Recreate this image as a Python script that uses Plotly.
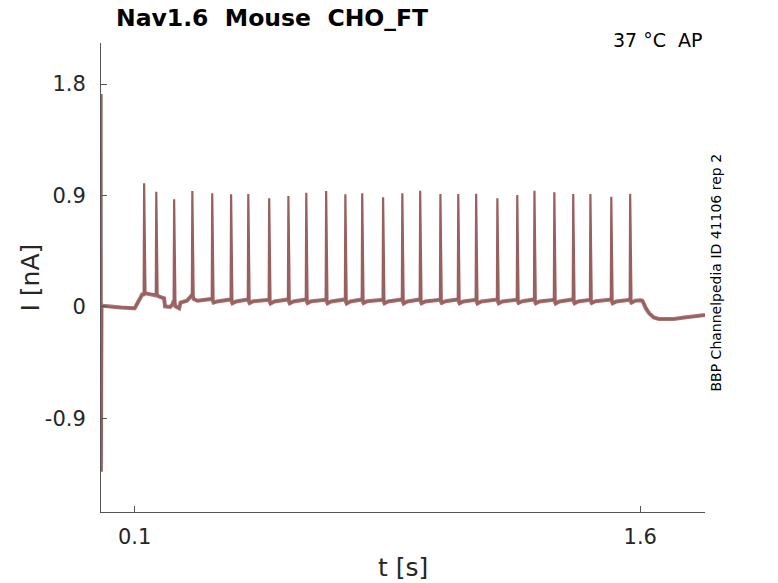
import plotly.graph_objects as go

# ---- data ----
spike_t = [0.128, 0.164, 0.217, 0.271, 0.330, 0.386, 0.437, 0.499, 0.556, 0.609,
           0.668, 0.725, 0.775, 0.837, 0.894, 0.947, 1.007, 1.060, 1.113, 1.176,
           1.235, 1.286, 1.345, 1.401, 1.452, 1.514, 1.570]
spike_peak = [0.998, 0.931, 0.869, 0.936, 0.918, 0.910, 0.912, 0.877, 0.896, 0.923,
              0.936, 0.910, 0.918, 0.885, 0.918, 0.939, 0.912, 0.912, 0.914, 0.877,
              0.904, 0.939, 0.926, 0.912, 0.912, 0.890, 0.912]
spike_pre = [0.10, 0.10, 0.05, 0.095, 0.065, 0.06, 0.06, 0.058, 0.06, 0.06,
             0.058, 0.06, 0.06, 0.058, 0.06, 0.06, 0.058, 0.06, 0.058, 0.06,
             0.058, 0.06, 0.058, 0.06, 0.058, 0.06, 0.058]
spike_post = [0.11, 0.09, 0.005, 0.065, 0.035, 0.03, 0.032, 0.028, 0.03, 0.032,
              0.03, 0.028, 0.032, 0.03, 0.028, 0.03, 0.032, 0.03, 0.028, 0.03,
              0.032, 0.03, 0.028, 0.03, 0.032, 0.03, 0.035]
spike_rec = [0.105, 0.078, -0.01, 0.05, 0.045, 0.045, 0.046, 0.044, 0.045, 0.046,
             0.045, 0.044, 0.046, 0.045, 0.044, 0.045, 0.046, 0.045, 0.044, 0.045,
             0.046, 0.045, 0.044, 0.045, 0.046, 0.045, 0.05]

base_t = [0.000, 0.0015, 0.0022, 0.004, 0.030, 0.060, 0.095, 0.100, 0.122,
          0.187, 0.190, 0.205, 0.212, 0.236, 0.255,
          1.600, 1.606, 1.610, 1.616, 1.626, 1.640, 1.655, 1.700, 1.730, 1.792]
base_i = [0.000, 1.72, -1.33, 0.01, 0.000, -0.005, -0.01, -0.01, 0.10,
          0.07, 0.005, 0.000, 0.02, 0.035, 0.05,
          0.055, 0.05, 0.03, -0.01, -0.05, -0.085, -0.097, -0.097, -0.085, -0.065]

x_ticks = [0.1, 1.6]
x_ticktext = ["0.1", "1.6"]
y_ticks = [-0.9, 0, 0.9, 1.8]
y_ticktext = ["-0.9", "0", "0.9", "1.8"]

# ---- assemble trace knots ----
pts = list(zip(base_t, base_i))
for t, pk, pre, post, rec in zip(spike_t, spike_peak, spike_pre, spike_post, spike_rec):
    pts += [(t - 0.0015, pre), (t, pk), (t + 0.004, post), (t + 0.015, rec)]
pts.sort()
xs = [p[0] for p in pts]
ys = [p[1] for p in pts]

# baseline-only knots (no spike peaks, no capacitive transient) for the thicker noisy band
bpts = [p for p in zip(base_t, base_i) if p[0] >= 0.004]
for t, pre, post, rec in zip(spike_t, spike_pre, spike_post, spike_rec):
    bpts += [(t - 0.0015, pre), (t + 0.004, post), (t + 0.015, rec)]
bpts.sort()
bxs = [p[0] for p in bpts]
bys = [p[1] for p in bpts]

trace_color = "#9a5f5f"
text_color = "#262626"
axis_color = "#555555"

fig = go.Figure()
fig.add_trace(go.Scatter(x=bxs, y=bys, mode="lines",
                         line=dict(color=trace_color, width=4),
                         opacity=0.85, hoverinfo="skip", showlegend=False))
fig.add_trace(go.Scatter(x=xs, y=ys, mode="lines",
                         line=dict(color=trace_color, width=2.2),
                         hoverinfo="skip", showlegend=False))

axis_common = dict(showgrid=False, zeroline=False, showline=True, linecolor=axis_color,
                   linewidth=1, ticks="inside", ticklen=6, tickcolor=axis_color,
                   tickfont=dict(size=21, color=text_color, family="DejaVu Sans"))

fig.update_layout(
    width=778, height=583,
    margin=dict(l=101, r=73, t=43, b=71),
    paper_bgcolor="white", plot_bgcolor="white",
    font=dict(family="DejaVu Sans", color=text_color),
    xaxis=dict(range=[0, 1.792], tickvals=x_ticks, ticktext=x_ticktext,
               ticklabelstandoff=6, **axis_common),
    yaxis=dict(range=[-1.655, 2.131], tickvals=y_ticks, ticktext=y_ticktext,
               ticklabelstandoff=10, **axis_common),
    annotations=[
        dict(text="<b>Nav1.6  Mouse  CHO_FT</b>", xref="paper", yref="paper",
             x=0, y=1, xanchor="left", yanchor="middle", xshift=13, yshift=25,
             showarrow=False, font=dict(size=23.5, color="black")),
        dict(text="37 °C  AP", xref="paper", yref="paper", x=1, y=1,
             xanchor="right", yanchor="middle", xshift=0, yshift=3,
             showarrow=False, font=dict(size=19, color="black")),
        dict(text="BBP Channelpedia ID 41106 rep 2", xref="paper", yref="paper",
             x=1, y=0.5, xanchor="center", yanchor="middle", xshift=10, yshift=5,
             textangle=-90, showarrow=False, font=dict(size=14, color="black")),
        dict(text="I [nA]", xref="paper", yref="paper", x=0, y=0.5,
             xanchor="center", yanchor="middle", xshift=-71, textangle=-90,
             showarrow=False, font=dict(size=25, color=text_color)),
        dict(text="t [s]", xref="paper", yref="paper", x=0.5, y=0,
             xanchor="center", yanchor="middle", yshift=-55,
             showarrow=False, font=dict(size=25, color=text_color)),
    ],
)

fig.write_html("out.html", config={"displayModeBar": False},
               post_script="document.body.style.margin='0';document.body.style.overflow='hidden';")
